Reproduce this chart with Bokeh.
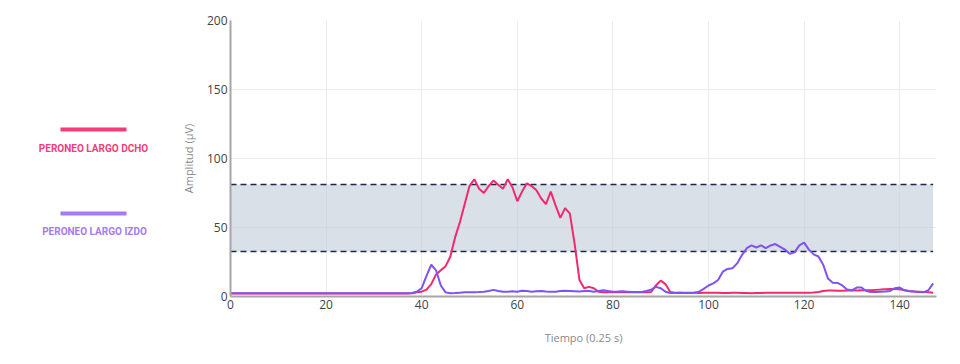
from bokeh.plotting import figure
from bokeh.layouts import row
from bokeh.models import Range1d, FixedTicker
from bokeh.core.properties import value
from bokeh.embed import file_html
from bokeh.resources import INLINE

# ---------------- data ----------------
series_names = ["PERONEO LARGO DCHO", "PERONEO LARGO IZDO"]
series_colors = ["#f2296e", "#7f52f4"]
legend_colors = ["#f33d7b", "#a57bf3"]

# amplitude (uV) per sample, right peroneus longus
dcho = [
    2.2, 2.2, 2.2, 2.2, 2.2, 2.2, 2.2, 2.2, 2.2, 2.2,
    2.2, 2.2, 2.2, 2.2, 2.2, 2.2, 2.2, 2.2, 2.2, 2.2,
    2.2, 2.2, 2.2, 2.2, 2.2, 2.2, 2.2, 2.2, 2.2, 2.2,
    2.2, 2.2, 2.2, 2.2, 2.2, 2.2, 2.2, 2.2, 2.4, 3.0,
    3.5, 5.0, 9.0, 16, 19, 22, 29, 43, 54, 67,
    80, 85, 78, 75, 80, 84, 81, 78, 85, 79,
    69, 76, 82, 80, 77, 71, 67, 76, 66, 57,
    64, 60, 38, 12, 6.0, 7.0, 6.0, 3.5, 3.0, 3.0,
    3.0, 3.0, 3.0, 3.0, 3.0, 3.0, 3.0, 3.0, 3.3, 8.0,
    11.5, 9.0, 3.2, 2.7, 2.7, 2.7, 2.8, 2.7, 2.6, 2.7,
    2.7, 2.8, 2.7, 2.6, 2.6, 2.7, 2.7, 2.6, 2.5, 2.4,
    2.5, 2.6, 2.7, 2.7, 2.8, 2.7, 2.7, 2.8, 2.7, 2.7,
    2.8, 2.8, 2.9, 3.3, 4.0, 4.3, 4.3, 4.2, 4.2, 4.4,
    4.3, 4.4, 4.5, 4.5, 4.6, 4.8, 5.0, 5.3, 5.5, 5.5,
    5.3, 4.6, 4.0, 3.6, 3.4, 3.2, 3.0, 2.8,
]

# amplitude (uV) per sample, left peroneus longus
izdo = [
    2.4, 2.4, 2.4, 2.4, 2.4, 2.4, 2.4, 2.4, 2.4, 2.4,
    2.4, 2.4, 2.4, 2.4, 2.4, 2.4, 2.4, 2.4, 2.4, 2.4,
    2.4, 2.4, 2.4, 2.4, 2.4, 2.4, 2.4, 2.4, 2.4, 2.4,
    2.4, 2.4, 2.4, 2.4, 2.4, 2.4, 2.4, 2.4, 2.6, 3.5,
    6.0, 15, 23, 19, 8.0, 3.0, 2.3, 2.5, 2.8, 3.0,
    3.0, 3.0, 3.2, 3.5, 4.0, 4.8, 4.0, 3.5, 3.5, 3.8,
    3.5, 4.2, 4.0, 3.5, 3.8, 4.0, 3.6, 3.5, 3.5, 4.0,
    4.2, 4.0, 3.8, 3.6, 4.0, 4.0, 3.5, 4.0, 4.6, 4.0,
    3.5, 3.6, 3.8, 3.5, 3.2, 3.2, 3.3, 4.0, 5.0, 7.0,
    6.0, 3.5, 2.6, 2.6, 2.8, 2.5, 2.5, 2.7, 3.5, 5.5,
    8.0, 9.5, 12, 18, 20, 20.5, 24, 30, 35, 37,
    35.5, 37, 35, 37, 38, 36, 34, 31, 32, 37,
    39, 34, 30.5, 29, 23, 13, 10, 9.8, 8.0, 5.0,
    4.5, 6.5, 6.5, 4.0, 3.2, 3.3, 3.5, 3.6, 4.0, 6.0,
    6.5, 4.5, 3.8, 3.6, 3.2, 3.0, 4.5, 9.5,
]

time = list(range(len(dcho)))
band_low, band_high = 32.6, 81.2
x_ticks = [0, 20, 40, 60, 80, 100, 120, 140]
y_ticks = [0, 50, 100, 150, 200]
x_title = "Tiempo (0.25 s)"
y_title = "Amplitud (\u03bcV)"

LEG_W = 174
TOP, BOTTOM = 20, 68

# ---------------- legend panel (coordinates = page pixels) ----------------
leg = figure(width=LEG_W, height=364, x_range=Range1d(0, LEG_W),
             y_range=Range1d(364 - BOTTOM, TOP),
             x_axis_type=None, y_axis_type=None, toolbar_location=None,
             output_backend="svg", min_border_left=0, min_border_right=0,
             min_border_top=TOP, min_border_bottom=BOTTOM, outline_line_color=None)
leg.segment(x0=[60, 60], y0=[129, 213], x1=[126, 126], y1=[129, 213],
            line_color=legend_colors, line_width=4)
leg.text(x=[93, 94], y=[147.5, 230.5], text=series_names, text_color=legend_colors,
         text_font=value("Roboto"), text_font_style="bold",
         text_font_size="10px", text_align="center", text_baseline="middle")

# ---------------- main chart ----------------
p = figure(width=960 - LEG_W, height=364, x_range=Range1d(0, 147.7), y_range=Range1d(0, 200),
           toolbar_location=None, output_backend="svg",
           min_border_left=230 - LEG_W, min_border_right=24,
           min_border_top=TOP, min_border_bottom=BOTTOM)
p.outline_line_color = None

p.varea(x=[time[0], time[-1]], y1=[band_low, band_low], y2=[band_high, band_high],
        fill_color="#c0ccd8", fill_alpha=0.6)
p.line(x=[time[0], time[-1]], y=[band_high, band_high], line_color="#1b2a48",
       line_width=1.6, line_dash="6 4")
p.line(x=[time[0], time[-1]], y=[band_low, band_low], line_color="#1b2a48",
       line_width=1.6, line_dash="6 4")

p.line(time, dcho, line_color=series_colors[0], line_width=2)
p.line(time, izdo, line_color=series_colors[1], line_width=2)

p.xaxis.ticker = FixedTicker(ticks=x_ticks)
p.yaxis.ticker = FixedTicker(ticks=y_ticks)
p.xgrid.ticker = FixedTicker(ticks=x_ticks)
p.ygrid.ticker = FixedTicker(ticks=y_ticks)
p.grid.grid_line_color = "#ececec"
p.grid.grid_line_width = 1

for ax in (p.xaxis, p.yaxis):
    ax.axis_line_color = "#a6a6a6"
    ax.axis_line_width = 2
    ax.major_tick_line_color = None
    ax.minor_tick_line_color = None
    ax.major_tick_out = 0
    ax.major_tick_in = 0
    ax.major_label_text_font = "Open Sans"
    ax.major_label_text_font_size = "12px"
    ax.major_label_text_color = "#444444"
    ax.axis_label_text_font = "Open Sans"
    ax.axis_label_text_font_size = "11px"
    ax.axis_label_text_color = "#8a8a8a"
    ax.axis_label_text_font_style = "normal"
    ax.major_label_standoff = 3

p.xaxis.axis_label = x_title
p.yaxis.axis_label = y_title
p.xaxis.axis_label_standoff = 18
p.yaxis.axis_label_standoff = 8

layout = row(leg, p)
open("out.html", "w").write(file_html(layout, INLINE))
